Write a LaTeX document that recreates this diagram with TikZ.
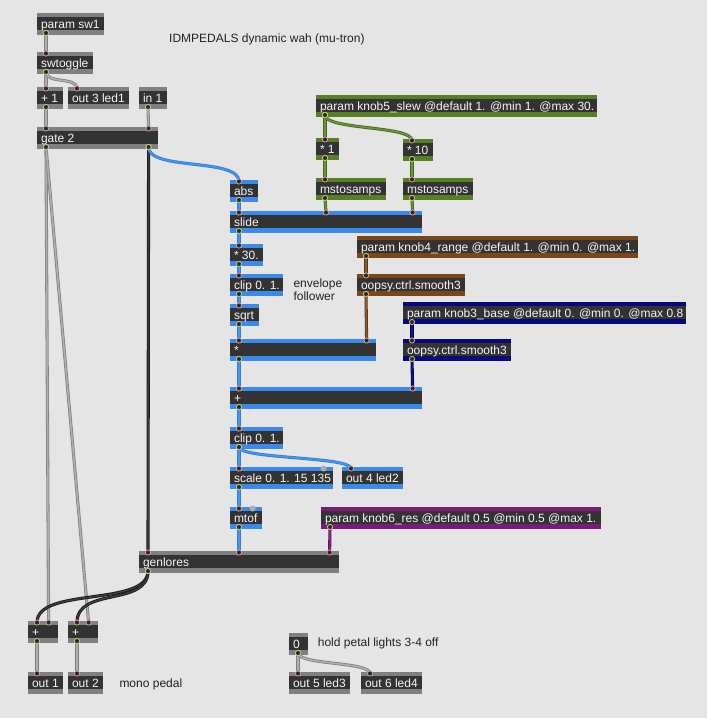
\documentclass[tikz,border=0pt]{standalone}
\usepackage{fontspec}
\setmainfont{Liberation Sans}
\pgfdeclarelayer{ports}
\pgfsetlayers{main,ports}
\definecolor{bg}{RGB}{229,229,229}
\definecolor{body}{RGB}{51,51,51}
\definecolor{sgray}{RGB}{128,128,128}
\definecolor{sblue}{RGB}{58,138,238}
\definecolor{sgreen}{RGB}{86,128,36}
\definecolor{sbrown}{RGB}{122,72,24}
\definecolor{snavy}{RGB}{8,8,125}
\definecolor{spurple}{RGB}{125,25,125}
\definecolor{txt}{RGB}{245,245,245}
\definecolor{cmt}{RGB}{34,34,34}
\tikzset{
  objtext/.style={anchor=base west, text=txt, inner sep=0pt, font=\fontsize{12}{14}\selectfont},
  comment/.style={anchor=base west, text=cmt, inner sep=0pt, font=\fontsize{12}{14}\selectfont, align=left},
  cordbase/.style={double distance=1.5pt, line width=0.8pt},
  graycord/.style={cordbase, draw={rgb,255:red,130;green,130;blue,130}, double={rgb,255:red,175;green,175;blue,175}},
  darkcord/.style={cordbase, draw={rgb,255:red,25;green,25;blue,25}, double={rgb,255:red,60;green,60;blue,60}},
  bluecord/.style={cordbase, draw={rgb,255:red,50;green,125;blue,220}, double={rgb,255:red,70;green,150;blue,240}},
  greencord/.style={cordbase, draw={rgb,255:red,70;green,105;blue,30}, double={rgb,255:red,105;green,150;blue,55}},
  browncord/.style={cordbase, draw={rgb,255:red,90;green,52;blue,16}, double={rgb,255:red,140;green,92;blue,45}},
  navycord/.style={cordbase, draw={rgb,255:red,0;green,0;blue,90}, double={rgb,255:red,20;green,20;blue,140}},
  purplecord/.style={cordbase, draw={rgb,255:red,95;green,15;blue,95}, double={rgb,255:red,140;green,40;blue,140}},
  outport/.style={fill={rgb,255:red,40;green,40;blue,40}, draw={rgb,255:red,205;green,200;blue,120}, line width=0.8pt},
  inport/.style={fill={rgb,255:red,40;green,40;blue,40}, draw={rgb,255:red,215;green,160;blue,155}, line width=0.8pt},
  freeport/.style={fill={rgb,255:red,175;green,175;blue,175}},
}
\newcommand\maxobj[6]{%
  \fill[#5] (#2,#3) rectangle ++(#4,21.5);
  \fill[body] (#2,#3+4.2) rectangle ++(#4,13.2);
  \node[inner sep=0pt, outer sep=0pt, minimum width=#4pt, minimum height=21.5pt, anchor=north west] (#1) at (#2,#3) {};
  \node[objtext] at (#2+3.8,#3+15.2) {#6};
  \coordinate (#1-iL) at (#2+9,#3+1.5);
  \coordinate (#1-iR) at (#2+#4-9.4,#3+1.5);
  \coordinate (#1-iM) at (#2+#4/2,#3+1.5);
  \coordinate (#1-oL) at (#2+9,#3+20);
  \coordinate (#1-oR) at (#2+#4-9.4,#3+20);
}
\newcommand\portpair[2]{\begin{pgfonlayer}{ports}\filldraw[outport] (#1) circle (2.6pt); \filldraw[inport] (#2) circle (2.6pt);\end{pgfonlayer}}
\newcommand\cord[3]{\draw[#1] (#2) -- (#3); \portpair{#2}{#3}}
\newcommand\cordc[4]{\draw[#1] (#2) .. controls +(0,#4) and +(0,-#4) .. (#3); \portpair{#2}{#3}}
\begin{document}
\begin{tikzpicture}[x=1pt,y=-1pt]
\fill[bg] (0,0) rectangle (707,718);
\useasboundingbox (0,0) rectangle (707,718);
% comments
\node[comment] (title) at (169,42.5) {IDMPEDALS dynamic wah (mu-tron)};
\node[comment, anchor=north west] (env) at (293.3,278.5) {envelope\\[-1.3pt]follower};
\node[comment] (mono) at (119.3,687.7) {mono pedal};
\node[comment] (hold) at (317.7,646.7) {hold petal lights 3-4 off};
% gray objects
\maxobj{sw}{37}{13}{67}{sgray}{param sw1}
\maxobj{swt}{37}{52}{56}{sgray}{swtoggle}
\maxobj{plusone}{37}{87}{26}{sgray}{+ 1}
\maxobj{outthree}{68}{87}{61}{sgray}{out 3 led1}
\maxobj{inone}{139}{87}{28}{sgray}{in 1}
\maxobj{gate}{37}{127}{121}{sgray}{gate 2}
\maxobj{gen}{139}{551}{200}{sgray}{genlores}
\maxobj{adda}{28}{621}{30}{sgray}{+}
\maxobj{addb}{68}{621}{30}{sgray}{+}
\maxobj{outone}{28}{672}{35}{sgray}{out 1}
\maxobj{outtwo}{68}{672}{35}{sgray}{out 2}
\maxobj{zero}{289}{633}{19}{sgray}{0}
\maxobj{outfive}{289}{672}{61}{sgray}{out 5 led3}
\maxobj{outsix}{361}{672}{61}{sgray}{out 6 led4}
% blue objects
\maxobj{absb}{230}{180}{28}{sblue}{abs}
\maxobj{slide}{230}{211}{192}{sblue}{slide}
\maxobj{multhirty}{230}{244}{33}{sblue}{* 30.}
\maxobj{clipa}{230}{274}{53}{sblue}{clip 0. 1.}
\maxobj{sqrtb}{230}{304}{29}{sblue}{sqrt}
\maxobj{mul}{230}{339}{146}{sblue}{*}
\maxobj{add}{230}{387}{192}{sblue}{+}
\maxobj{clipb}{230}{427}{53}{sblue}{clip 0. 1.}
\maxobj{scale}{230}{467}{103}{sblue}{scale 0. 1. 15 135}
\maxobj{outfour}{342}{467}{61}{sblue}{out 4 led2}
\maxobj{mtof}{230}{507}{32}{sblue}{mtof}
% green objects
\maxobj{knobfive}{316}{95}{281}{sgreen}{param knob5\_slew @default 1. @min 1. @max 30.}
\maxobj{mulone}{316}{138}{23}{sgreen}{* 1}
\maxobj{multen}{403}{139}{30}{sgreen}{* 10}
\maxobj{msa}{316}{178}{70}{sgreen}{mstosamps}
\maxobj{msb}{403}{178}{70}{sgreen}{mstosamps}
% brown
\maxobj{knobfour}{357}{236}{281}{sbrown}{param knob4\_range @default 1. @min 0. @max 1.}
\maxobj{smfour}{357}{274}{108}{sbrown}{oopsy.ctrl.smooth3}
% navy
\maxobj{knobthree}{403}{302}{283}{snavy}{param knob3\_base @default 0. @min 0. @max 0.8}
\maxobj{smthree}{403}{339}{108}{snavy}{oopsy.ctrl.smooth3}
% purple
\maxobj{knobsix}{321}{507}{280}{spurple}{param knob6\_res @default 0.5 @min 0.5 @max 1.}
% unconnected inlets
\begin{pgfonlayer}{ports}
\fill[freeport] (scale-iR) circle (3pt);
\fill[freeport] (mtof-iR) circle (3pt);
\end{pgfonlayer}
% gray cords
\cord{graycord}{sw-oL}{swt-iL}
\cord{graycord}{swt-oL}{plusone-iL}
\cordc{graycord}{swt-oL}{outthree-iL}{12}
\cord{graycord}{plusone-oL}{gate-iL}
\cord{graycord}{inone-oL}{gate-iR}
\cord{graycord}{gate-oL}{adda-iR}
\cord{graycord}{gate-oL}{addb-iR}
\cord{graycord}{adda-oL}{outone-iL}
\cord{graycord}{addb-oL}{outtwo-iL}
\cord{graycord}{zero-oL}{outfive-iL}
\cordc{graycord}{zero-oL}{outsix-iL}{12}
% dark cords
\cord{darkcord}{gate-oR}{gen-iL}
\cordc{darkcord}{gen-oL}{adda-iL}{36}
\cordc{darkcord}{gen-oL}{addb-iL}{36}
% blue cords
\cordc{bluecord}{gate-oR}{absb-iL}{24}
\cord{bluecord}{absb-oL}{slide-iL}
\cord{bluecord}{slide-oL}{multhirty-iL}
\cord{bluecord}{multhirty-oL}{clipa-iL}
\cord{bluecord}{clipa-oL}{sqrtb-iL}
\cord{bluecord}{sqrtb-oL}{mul-iL}
\cord{bluecord}{mul-oL}{add-iL}
\cord{bluecord}{add-oL}{clipb-iL}
\cord{bluecord}{clipb-oL}{scale-iL}
\cordc{bluecord}{clipb-oL}{outfour-iL}{12}
\cord{bluecord}{scale-oL}{mtof-iL}
\cord{bluecord}{mtof-oL}{gen-iM}
% green cords
\cord{greencord}{knobfive-oL}{mulone-iL}
\cordc{greencord}{knobfive-oL}{multen-iL}{15}
\cord{greencord}{mulone-oL}{msa-iL}
\cord{greencord}{multen-oL}{msb-iL}
\cord{greencord}{msa-oL}{slide-iM}
\cord{greencord}{msb-oL}{slide-iR}
% brown, navy, purple
\cord{browncord}{knobfour-oL}{smfour-iL}
\cord{browncord}{smfour-oL}{mul-iR}
\cord{navycord}{knobthree-oL}{smthree-iL}
\cord{navycord}{smthree-oL}{add-iR}
\cord{purplecord}{knobsix-oL}{gen-iR}
\end{tikzpicture}
\end{document}
